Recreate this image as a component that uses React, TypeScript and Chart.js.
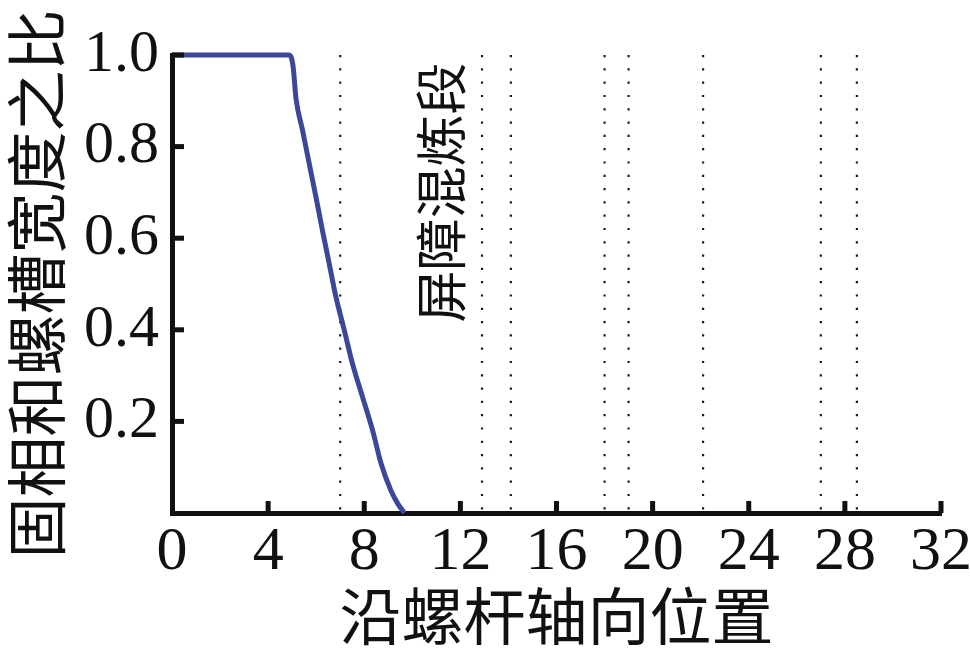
import React, { useEffect, useRef } from "react";
import { Chart, registerables } from "chart.js";

Chart.register(...registerables);

// ---- data ----
const curveX = [0, 4.85, 4.98, 5.05, 5.1, 5.16, 5.43, 5.71, 5.99, 6.26, 6.54, 6.82, 7.17, 7.51, 7.93, 8.35, 8.7, 9.11, 9.4, 9.67];
const curveY = [1, 1, 0.992, 0.97, 0.94, 0.905, 0.836, 0.763, 0.69, 0.617, 0.545, 0.472, 0.399, 0.326, 0.253, 0.18, 0.108, 0.049, 0.02, 0];
const dividerX = [7, 12.9, 14.1, 18, 19, 22.1, 27, 28.5];
const xTicks = [0, 4, 8, 12, 16, 20, 24, 28, 32];
const yTicks = [0, 0.2, 0.4, 0.6, 0.8, 1.0];
const xTitle = "沿螺杆轴向位置";
const yTitle = "固相和螺槽宽度之比";
const annotationText = "屏障混炼段";
const annotationPos = { x: 11.2, y: 0.7 };

const NUM_FONT = "'Liberation Serif', 'Times New Roman', serif";
const CJK_FONT = "'Noto Sans CJK SC', sans-serif";

const innerTicks = {
  id: "innerTicks",
  afterDatasetsDraw(chart: any) {
    const ctx = chart.ctx;
    const { left, bottom } = chart.chartArea;
    const xs = chart.scales.x;
    const ys = chart.scales.y;
    ctx.save();
    ctx.fillStyle = "#111";
    xTicks.forEach((v) => {
      if (v === 0) return;
      const px = xs.getPixelForValue(v);
      ctx.fillRect(px - 2.5, bottom - 12, 5, 12);
    });
    yTicks.forEach((v) => {
      if (v === 0) return;
      const py = ys.getPixelForValue(v);
      ctx.fillRect(left, py - 2.5, 12, 5);
    });
    // annotation
    const ax = xs.getPixelForValue(annotationPos.x);
    const ay = ys.getPixelForValue(annotationPos.y);
    ctx.translate(ax, ay);
    ctx.rotate(-Math.PI / 2);
    ctx.fillStyle = "#111";
    ctx.font = `52px ${CJK_FONT}`;
    ctx.textAlign = "center";
    ctx.textBaseline = "middle";
    ctx.fillText(annotationText, 0, 0);
    ctx.restore();
  },
};

export default function App() {
  const ref = useRef<HTMLCanvasElement | null>(null);
  useEffect(() => {
    document.body.style.margin = "0";
    const canvas = ref.current!;
    const datasets: any[] = [
      {
        label: "curve",
        data: curveX.map((x, i) => ({ x, y: curveY[i] })),
        borderColor: "#3c4897",
        borderWidth: 5,
        pointRadius: 0,
        cubicInterpolationMode: "monotone",
        clip: false,
        borderJoinStyle: "round",
      },
      ...dividerX.map((x) => ({
        label: "div" + x,
        data: [
          { x, y: 1 },
          { x, y: 0 },
        ],
        borderColor: "#1a1a1a",
        borderWidth: 2.2,
        borderDash: [2.2, 11.1],
        borderCapStyle: "butt",
        pointRadius: 0,
        clip: false,
      })),
    ];
    const chart = new Chart(canvas, {
      type: "line",
      data: { datasets },
      plugins: [innerTicks],
      options: {
        animation: false,
        responsive: false,
        layout: { padding: { left: 0, right: 29, top: 55, bottom: 0 } },
        plugins: { legend: { display: false }, tooltip: { enabled: false } },
        scales: {
          x: {
            type: "linear",
            min: 0,
            max: 32,
            afterBuildTicks: (s: any) => {
              s.ticks = xTicks.map((v) => ({ value: v }));
            },
            afterFit: (s: any) => {
              s.height = 141;
              s.paddingLeft = 0;
              s.paddingRight = 0;
            },
            ticks: {
              autoSkip: false,
              maxRotation: 0,
              padding: 3,
              color: "#111",
              font: { family: NUM_FONT, size: 62 },
              callback: (v: any) => String(v),
            },
            grid: { display: false, drawTicks: false },
            border: { display: true, color: "#111", width: 5 },
            title: {
              display: true,
              text: xTitle,
              color: "#111",
              font: { family: CJK_FONT, size: 62 },
              padding: { top: 0, bottom: 0 },
            },
          },
          y: {
            type: "linear",
            min: 0,
            max: 1,
            afterBuildTicks: (s: any) => {
              s.ticks = yTicks.map((v) => ({ value: v }));
            },
            afterFit: (s: any) => {
              s.width = 172;
            },
            ticks: {
              autoSkip: false,
              padding: 13,
              color: "#111",
              font: { family: NUM_FONT, size: 60 },
              callback: (v: any) => (v === 0 ? "" : Number(v).toFixed(1)),
            },
            grid: { display: false, drawTicks: false },
            border: { display: true, color: "#111", width: 5 },
            title: {
              display: true,
              text: yTitle,
              color: "#111",
              font: { family: CJK_FONT, size: 61 },
              padding: { top: 0, bottom: 0 },
            },
          },
        },
      },
    });
    return () => chart.destroy();
  }, []);
  return (
    <canvas
      ref={ref}
      width={970}
      height={654}
      style={{ position: "fixed", left: 0, top: 0, width: 970, height: 654 }}
    />
  );
}
